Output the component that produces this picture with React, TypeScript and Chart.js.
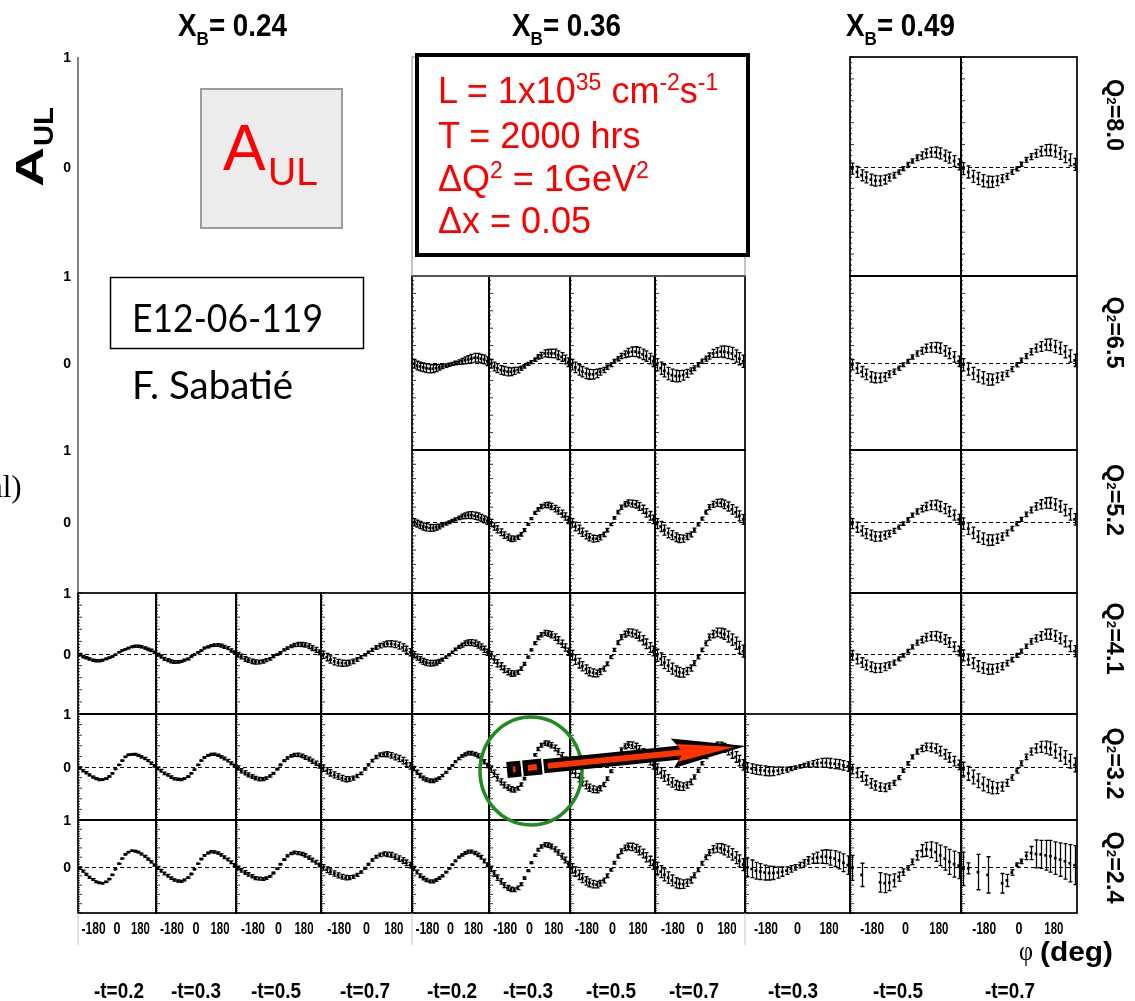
import React, { useEffect, useRef } from 'react';
import { Chart, registerables } from 'chart.js';

Chart.register(...registerables);

// ---------- data ----------
// phi bin centres (deg)
const PHI_BINS = [-172.5, -157.5, -142.5, -127.5, -112.5, -97.5, -82.5, -67.5, -52.5, -37.5, -22.5, -7.5,
  7.5, 22.5, 37.5, 52.5, 67.5, 82.5, 97.5, 112.5, 127.5, 142.5, 157.5, 172.5];

const XB_LABELS = ['0.24', '0.36', '0.49'];
const Q2_LABELS = ['8.0', '6.5', '5.2', '4.1', '3.2', '2.4'];
const T_LABELS = [['0.2', '0.3', '0.5', '0.7'], ['0.2', '0.3', '0.5', '0.7'], ['0.3', '0.5', '0.7']];
const PHI_TICK_LABELS = ['-180', '0', '180'];
const Y_TICK_LABELS = ['1', '0'];

// A_UL projections, x_B = 0.24
const A24_41_02 = [-0.02, -0.05, -0.07, -0.09, -0.11, -0.12, -0.12, -0.11, -0.09, -0.07, -0.05, -0.02, 0.02, 0.05, 0.07, 0.09, 0.11, 0.12, 0.12, 0.11, 0.09, 0.07, 0.05, 0.02];
const A24_41_03 = [-0.02, -0.05, -0.09, -0.11, -0.13, -0.14, -0.14, -0.13, -0.11, -0.09, -0.05, -0.02, 0.02, 0.05, 0.09, 0.11, 0.13, 0.14, 0.14, 0.13, 0.11, 0.09, 0.05, 0.02];
const A24_41_05 = [-0.02, -0.05, -0.09, -0.11, -0.13, -0.14, -0.14, -0.13, -0.11, -0.09, -0.05, -0.02, 0.02, 0.06, 0.09, 0.12, 0.14, 0.15, 0.15, 0.14, 0.12, 0.09, 0.06, 0.02];
const A24_41_07 = [-0.02, -0.06, -0.10, -0.13, -0.15, -0.16, -0.16, -0.15, -0.13, -0.10, -0.06, -0.02, 0.02, 0.06, 0.10, 0.13, 0.15, 0.16, 0.16, 0.15, 0.13, 0.10, 0.06, 0.02];
const A24_32_02 = [-0.02, -0.07, -0.11, -0.15, -0.19, -0.22, -0.24, -0.24, -0.22, -0.18, -0.12, -0.04, 0.04, 0.12, 0.19, 0.23, 0.24, 0.24, 0.22, 0.19, 0.16, 0.12, 0.07, 0.02];
const A24_32_03 = [-0.03, -0.07, -0.12, -0.15, -0.19, -0.22, -0.23, -0.24, -0.22, -0.18, -0.12, -0.05, 0.04, 0.12, 0.18, 0.22, 0.24, 0.24, 0.22, 0.19, 0.16, 0.12, 0.07, 0.03];
const A24_32_05 = [-0.02, -0.07, -0.11, -0.15, -0.18, -0.21, -0.23, -0.23, -0.21, -0.17, -0.12, -0.04, 0.04, 0.12, 0.17, 0.21, 0.23, 0.23, 0.21, 0.18, 0.15, 0.11, 0.07, 0.02];
const A24_32_07 = [-0.02, -0.07, -0.11, -0.15, -0.18, -0.21, -0.23, -0.23, -0.21, -0.17, -0.12, -0.04, 0.04, 0.12, 0.19, 0.23, 0.24, 0.24, 0.22, 0.19, 0.16, 0.12, 0.07, 0.02];
const A24_24_02 = [-0.04, -0.10, -0.17, -0.23, -0.28, -0.33, -0.35, -0.36, -0.33, -0.27, -0.18, -0.06, 0.06, 0.17, 0.26, 0.31, 0.34, 0.33, 0.31, 0.27, 0.22, 0.16, 0.10, 0.03];
const A24_24_03 = [-0.03, -0.09, -0.15, -0.20, -0.25, -0.29, -0.31, -0.32, -0.29, -0.24, -0.16, -0.06, 0.06, 0.16, 0.24, 0.29, 0.32, 0.31, 0.29, 0.25, 0.20, 0.15, 0.09, 0.03];
const A24_24_05 = [-0.03, -0.08, -0.13, -0.17, -0.21, -0.25, -0.26, -0.27, -0.25, -0.21, -0.14, -0.05, 0.05, 0.15, 0.23, 0.28, 0.30, 0.29, 0.27, 0.24, 0.19, 0.14, 0.09, 0.03];
const A24_24_07 = [-0.02, -0.07, -0.11, -0.15, -0.19, -0.22, -0.24, -0.24, -0.22, -0.18, -0.12, -0.04, 0.05, 0.14, 0.21, 0.25, 0.27, 0.26, 0.25, 0.21, 0.17, 0.13, 0.08, 0.03];

// A_UL projections, x_B = 0.36
const A36_65_02 = [-0.01, -0.03, -0.04, -0.05, -0.06, -0.065, -0.065, -0.06, -0.05, -0.04, -0.03, -0.02, -0.01, 0.00, 0.01, 0.02, 0.03, 0.04, 0.05, 0.06, 0.06, 0.05, 0.04, 0.02];
const A36_65_03 = [-0.01, -0.04, -0.06, -0.08, -0.09, -0.10, -0.10, -0.09, -0.08, -0.06, -0.04, -0.01, 0.01, 0.04, 0.07, 0.09, 0.11, 0.11, 0.11, 0.11, 0.09, 0.07, 0.04, 0.01];
const A36_65_05 = [-0.02, -0.05, -0.08, -0.10, -0.12, -0.13, -0.13, -0.12, -0.10, -0.08, -0.05, -0.02, 0.02, 0.05, 0.08, 0.10, 0.12, 0.13, 0.13, 0.12, 0.10, 0.08, 0.05, 0.02];
const A36_65_07 = [-0.02, -0.06, -0.09, -0.12, -0.14, -0.15, -0.15, -0.14, -0.12, -0.09, -0.06, -0.02, 0.02, 0.05, 0.08, 0.11, 0.12, 0.13, 0.13, 0.12, 0.11, 0.08, 0.05, 0.02];
const A36_52_02 = [-0.01, -0.03, -0.05, -0.07, -0.08, -0.09, -0.09, -0.08, -0.07, -0.05, -0.03, -0.01, 0.01, 0.03, 0.05, 0.07, 0.08, 0.09, 0.09, 0.08, 0.07, 0.05, 0.03, 0.01];
const A36_52_03 = [-0.02, -0.07, -0.11, -0.15, -0.19, -0.22, -0.24, -0.24, -0.22, -0.18, -0.12, -0.04, 0.04, 0.12, 0.17, 0.21, 0.23, 0.23, 0.21, 0.18, 0.15, 0.11, 0.07, 0.02];
const A36_52_05 = [-0.02, -0.07, -0.11, -0.15, -0.19, -0.22, -0.24, -0.24, -0.22, -0.18, -0.12, -0.04, 0.05, 0.13, 0.20, 0.24, 0.26, 0.25, 0.24, 0.21, 0.17, 0.12, 0.08, 0.03];
const A36_52_07 = [-0.03, -0.07, -0.12, -0.16, -0.19, -0.22, -0.24, -0.24, -0.21, -0.18, -0.12, -0.04, 0.04, 0.13, 0.20, 0.24, 0.26, 0.26, 0.24, 0.21, 0.17, 0.13, 0.08, 0.03];
const A36_41_02 = [-0.02, -0.06, -0.10, -0.13, -0.15, -0.16, -0.16, -0.15, -0.13, -0.10, -0.06, -0.02, 0.02, 0.07, 0.11, 0.14, 0.17, 0.18, 0.18, 0.17, 0.14, 0.11, 0.07, 0.02];
const A36_41_03 = [-0.03, -0.10, -0.16, -0.21, -0.26, -0.30, -0.33, -0.33, -0.31, -0.25, -0.17, -0.06, 0.06, 0.17, 0.26, 0.31, 0.34, 0.33, 0.31, 0.27, 0.22, 0.16, 0.10, 0.03];
const A36_41_05 = [-0.03, -0.10, -0.16, -0.21, -0.26, -0.30, -0.32, -0.33, -0.30, -0.25, -0.17, -0.06, 0.06, 0.18, 0.27, 0.32, 0.35, 0.34, 0.32, 0.28, 0.22, 0.16, 0.10, 0.04];
const A36_41_07 = [-0.03, -0.09, -0.15, -0.20, -0.25, -0.29, -0.31, -0.32, -0.29, -0.24, -0.16, -0.06, 0.06, 0.17, 0.27, 0.32, 0.35, 0.34, 0.32, 0.28, 0.23, 0.17, 0.10, 0.04];
const A36_32_02 = [-0.03, -0.10, -0.16, -0.21, -0.24, -0.26, -0.26, -0.24, -0.21, -0.16, -0.10, -0.03, 0.03, 0.10, 0.16, 0.21, 0.24, 0.26, 0.26, 0.24, 0.21, 0.16, 0.10, 0.03];
const A36_32_03 = [-0.04, -0.12, -0.20, -0.28, -0.34, -0.39, -0.42, -0.43, -0.40, -0.33, -0.22, -0.08, 0.08, 0.23, 0.34, 0.41, 0.45, 0.44, 0.41, 0.36, 0.29, 0.21, 0.13, 0.05];
const A36_32_05 = [-0.04, -0.12, -0.20, -0.28, -0.34, -0.39, -0.42, -0.43, -0.40, -0.33, -0.22, -0.08, 0.08, 0.21, 0.32, 0.39, 0.42, 0.41, 0.38, 0.33, 0.27, 0.20, 0.12, 0.04];
const A36_32_07 = [-0.04, -0.11, -0.17, -0.24, -0.29, -0.34, -0.36, -0.37, -0.34, -0.28, -0.19, -0.07, 0.07, 0.20, 0.30, 0.37, 0.40, 0.39, 0.36, 0.32, 0.26, 0.19, 0.12, 0.04];
const A36_24_02 = [-0.04, -0.12, -0.20, -0.25, -0.29, -0.32, -0.32, -0.29, -0.25, -0.20, -0.12, -0.04, 0.04, 0.12, 0.20, 0.25, 0.29, 0.32, 0.32, 0.29, 0.25, 0.20, 0.12, 0.04];
const A36_24_03 = [-0.05, -0.15, -0.24, -0.32, -0.40, -0.46, -0.49, -0.50, -0.46, -0.38, -0.25, -0.09, 0.08, 0.24, 0.36, 0.43, 0.47, 0.46, 0.43, 0.37, 0.30, 0.22, 0.14, 0.05];
const A36_24_05 = [-0.04, -0.11, -0.18, -0.25, -0.31, -0.35, -0.38, -0.39, -0.36, -0.30, -0.20, -0.07, 0.08, 0.22, 0.33, 0.40, 0.43, 0.42, 0.39, 0.34, 0.28, 0.20, 0.12, 0.04];
const A36_24_07 = [-0.04, -0.11, -0.18, -0.24, -0.30, -0.35, -0.37, -0.38, -0.35, -0.29, -0.19, -0.07, 0.07, 0.20, 0.30, 0.37, 0.40, 0.39, 0.36, 0.32, 0.26, 0.19, 0.12, 0.04];

// A_UL projections, x_B = 0.49
const A49_80_05 = [-0.02, -0.05, -0.08, -0.10, -0.12, -0.13, -0.13, -0.12, -0.10, -0.08, -0.05, -0.02, 0.02, 0.05, 0.08, 0.10, 0.12, 0.13, 0.13, 0.12, 0.10, 0.08, 0.05, 0.02];
const A49_80_07 = [-0.02, -0.05, -0.09, -0.11, -0.13, -0.14, -0.14, -0.13, -0.11, -0.09, -0.05, -0.02, 0.02, 0.06, 0.09, 0.12, 0.14, 0.15, 0.15, 0.14, 0.12, 0.09, 0.06, 0.02];
const A49_65_05 = [-0.02, -0.06, -0.10, -0.13, -0.16, -0.17, -0.17, -0.16, -0.13, -0.10, -0.06, -0.02, 0.02, 0.07, 0.11, 0.14, 0.17, 0.18, 0.18, 0.17, 0.14, 0.11, 0.07, 0.02];
const A49_65_07 = [-0.02, -0.07, -0.12, -0.15, -0.17, -0.19, -0.19, -0.17, -0.15, -0.12, -0.07, -0.02, 0.03, 0.08, 0.13, 0.17, 0.19, 0.21, 0.21, 0.19, 0.17, 0.13, 0.08, 0.03];
const A49_52_05 = [-0.03, -0.08, -0.13, -0.17, -0.19, -0.21, -0.21, -0.19, -0.17, -0.13, -0.08, -0.03, 0.03, 0.09, 0.14, 0.18, 0.21, 0.23, 0.23, 0.21, 0.18, 0.14, 0.09, 0.03];
const A49_52_07 = [-0.03, -0.10, -0.16, -0.21, -0.24, -0.26, -0.26, -0.24, -0.21, -0.16, -0.10, -0.03, 0.03, 0.10, 0.16, 0.21, 0.24, 0.26, 0.26, 0.24, 0.21, 0.16, 0.10, 0.03];
const A49_41_05 = [-0.03, -0.09, -0.15, -0.19, -0.22, -0.24, -0.24, -0.22, -0.19, -0.15, -0.09, -0.03, 0.04, 0.11, 0.18, 0.23, 0.27, 0.29, 0.29, 0.27, 0.23, 0.18, 0.11, 0.04];
const A49_41_07 = [-0.03, -0.10, -0.16, -0.21, -0.24, -0.26, -0.26, -0.24, -0.21, -0.16, -0.10, -0.03, 0.04, 0.12, 0.20, 0.25, 0.29, 0.32, 0.32, 0.29, 0.25, 0.20, 0.12, 0.04];
const A49_32_03 = [-0.01, -0.03, -0.05, -0.06, -0.07, -0.08, -0.08, -0.07, -0.06, -0.05, -0.03, -0.01, 0.01, 0.03, 0.05, 0.06, 0.07, 0.08, 0.08, 0.07, 0.06, 0.05, 0.03, 0.01];
const A49_32_05 = [-0.04, -0.11, -0.18, -0.25, -0.31, -0.35, -0.38, -0.39, -0.36, -0.30, -0.20, -0.07, 0.07, 0.19, 0.29, 0.35, 0.38, 0.37, 0.35, 0.30, 0.24, 0.18, 0.11, 0.04];
const A49_32_07 = [-0.04, -0.12, -0.19, -0.26, -0.32, -0.36, -0.39, -0.40, -0.37, -0.30, -0.20, -0.07, 0.07, 0.19, 0.29, 0.35, 0.38, 0.37, 0.35, 0.30, 0.24, 0.18, 0.11, 0.04];
const A49_24_03 = [-0.02, -0.05, -0.09, -0.11, -0.13, -0.14, -0.14, -0.13, -0.11, -0.09, -0.05, -0.02, 0.03, 0.08, 0.13, 0.17, 0.19, 0.21, 0.21, 0.19, 0.17, 0.13, 0.08, 0.03];
const A49_24_05 = [-0.03, null, -0.18, null, null, null, -0.34, -0.36, -0.35, -0.30, -0.22, -0.12, -0.03, 0.10, 0.24, 0.34, 0.37, 0.36, 0.31, 0.24, 0.17, 0.10, 0.05, 0.02];
const A49_24_07 = [-0.05, -0.04, null, -0.12, null, -0.18, null, null, -0.36, -0.30, -0.13, 0.04, 0.11, 0.23, 0.29, 0.27, 0.26, 0.24, 0.22, 0.18, 0.15, 0.11, 0.07, 0.03];

// statistical errors per bin
const ERR_A02 = [0.02, 0.02, 0.02, 0.019, 0.018, 0.017, 0.016, 0.014, 0.012, 0.01, 0.008, 0.006, 0.006, 0.008, 0.01, 0.012, 0.014, 0.016, 0.017, 0.018, 0.019, 0.02, 0.02, 0.02];
const ERR_A025 = [0.025, 0.025, 0.025, 0.024, 0.023, 0.021, 0.02, 0.018, 0.015, 0.013, 0.01, 0.008, 0.008, 0.01, 0.013, 0.015, 0.018, 0.02, 0.021, 0.023, 0.024, 0.025, 0.025, 0.025];
const ERR_A03 = [0.03, 0.03, 0.03, 0.029, 0.027, 0.026, 0.024, 0.021, 0.018, 0.015, 0.012, 0.009, 0.009, 0.012, 0.015, 0.018, 0.021, 0.024, 0.026, 0.027, 0.029, 0.03, 0.03, 0.03];
const ERR_A04 = [0.04, 0.04, 0.04, 0.038, 0.036, 0.034, 0.032, 0.028, 0.024, 0.02, 0.016, 0.012, 0.012, 0.016, 0.02, 0.024, 0.028, 0.032, 0.034, 0.036, 0.038, 0.04, 0.04, 0.04];
const ERR_A05 = [0.05, 0.05, 0.05, 0.048, 0.045, 0.043, 0.04, 0.035, 0.03, 0.025, 0.02, 0.015, 0.015, 0.02, 0.025, 0.03, 0.035, 0.04, 0.043, 0.045, 0.048, 0.05, 0.05, 0.05];
const ERR_A06 = [0.06, 0.06, 0.06, 0.057, 0.054, 0.051, 0.048, 0.042, 0.036, 0.03, 0.024, 0.018, 0.018, 0.024, 0.03, 0.036, 0.042, 0.048, 0.051, 0.054, 0.057, 0.06, 0.06, 0.06];
const ERR_A07 = [0.07, 0.07, 0.07, 0.067, 0.063, 0.06, 0.056, 0.049, 0.042, 0.035, 0.028, 0.021, 0.021, 0.028, 0.035, 0.042, 0.049, 0.056, 0.06, 0.063, 0.067, 0.07, 0.07, 0.07];
const ERR_A08 = [0.08, 0.08, 0.08, 0.076, 0.072, 0.068, 0.064, 0.056, 0.048, 0.04, 0.032, 0.024, 0.024, 0.032, 0.04, 0.048, 0.056, 0.064, 0.068, 0.072, 0.076, 0.08, 0.08, 0.08];
const ERR_A10 = [0.1, 0.1, 0.1, 0.095, 0.09, 0.085, 0.08, 0.07, 0.06, 0.05, 0.04, 0.03, 0.03, 0.04, 0.05, 0.06, 0.07, 0.08, 0.085, 0.09, 0.095, 0.1, 0.1, 0.1];
const ERR_A13 = [0.13, 0.13, 0.13, 0.124, 0.117, 0.111, 0.104, 0.091, 0.078, 0.065, 0.052, 0.039, 0.039, 0.052, 0.065, 0.078, 0.091, 0.104, 0.111, 0.117, 0.124, 0.13, 0.13, 0.13];
const ERR_B05 = [0.05, 0.05, 0.05, 0.05, 0.05, 0.048, 0.045, 0.04, 0.033, 0.025, 0.02, 0.018, 0.018, 0.02, 0.025, 0.033, 0.04, 0.045, 0.048, 0.05, 0.05, 0.05, 0.05, 0.05];
const ERR_B055 = [0.055, 0.055, 0.055, 0.055, 0.055, 0.052, 0.05, 0.044, 0.036, 0.028, 0.022, 0.019, 0.019, 0.022, 0.028, 0.036, 0.044, 0.05, 0.052, 0.055, 0.055, 0.055, 0.055, 0.055];
const ERR_B06 = [0.06, 0.06, 0.06, 0.06, 0.06, 0.057, 0.054, 0.048, 0.039, 0.03, 0.024, 0.021, 0.021, 0.024, 0.03, 0.039, 0.048, 0.054, 0.057, 0.06, 0.06, 0.06, 0.06, 0.06];
const ERR_B07 = [0.07, 0.07, 0.07, 0.07, 0.07, 0.067, 0.063, 0.056, 0.046, 0.035, 0.028, 0.025, 0.025, 0.028, 0.035, 0.046, 0.056, 0.063, 0.067, 0.07, 0.07, 0.07, 0.07, 0.07];
const ERR_B08 = [0.08, 0.08, 0.08, 0.08, 0.08, 0.076, 0.072, 0.064, 0.052, 0.04, 0.032, 0.028, 0.028, 0.032, 0.04, 0.052, 0.064, 0.072, 0.076, 0.08, 0.08, 0.08, 0.08, 0.08];
const ERR_B09 = [0.09, 0.09, 0.09, 0.09, 0.09, 0.086, 0.081, 0.072, 0.059, 0.045, 0.036, 0.032, 0.032, 0.036, 0.045, 0.059, 0.072, 0.081, 0.086, 0.09, 0.09, 0.09, 0.09, 0.09];
const ERR_B13 = [0.13, 0.13, 0.13, 0.13, 0.13, 0.124, 0.117, 0.104, 0.085, 0.065, 0.052, 0.046, 0.046, 0.052, 0.065, 0.085, 0.104, 0.117, 0.124, 0.13, 0.13, 0.13, 0.13, 0.13];
const ERR_B18 = [0.2, 0.19, 0.18, 0.17, 0.16, 0.15, 0.14, 0.12, 0.1, 0.08, 0.07, 0.06, 0.06, 0.07, 0.08, 0.1, 0.12, 0.14, 0.15, 0.16, 0.17, 0.18, 0.19, 0.2];
const E49_24_05 = [0.27, 0, 0.25, 0, 0, 0, 0.21, 0.2, 0.17, 0.14, 0.1, 0.07, 0.05, 0.06, 0.1, 0.13, 0.15, 0.17, 0.2, 0.22, 0.25, 0.27, 0.28, 0.28];
const E49_24_07 = [0.36, 0.12, 0, 0.38, 0, 0.39, 0, 0, 0.21, 0.13, 0.06, 0.04, 0.05, 0.08, 0.14, 0.3, 0.3, 0.32, 0.34, 0.35, 0.36, 0.38, 0.4, 0.42];

// panel table: [x_B group, -t column, Q2 row, values, errors]
const PANELS: any[] = [
  [0, 0, 3, A24_41_02, ERR_A02], [0, 1, 3, A24_41_03, ERR_A025], [0, 2, 3, A24_41_05, ERR_A04], [0, 3, 3, A24_41_07, ERR_A06],
  [0, 0, 4, A24_32_02, ERR_A02], [0, 1, 4, A24_32_03, ERR_A025], [0, 2, 4, A24_32_05, ERR_A04], [0, 3, 4, A24_32_07, ERR_A06],
  [0, 0, 5, A24_24_02, ERR_A02], [0, 1, 5, A24_24_03, ERR_A03], [0, 2, 5, A24_24_05, ERR_A04], [0, 3, 5, A24_24_07, ERR_A06],
  [1, 0, 1, A36_65_02, ERR_B05], [1, 1, 1, A36_65_03, ERR_B05], [1, 2, 1, A36_65_05, ERR_B06], [1, 3, 1, A36_65_07, ERR_B07],
  [1, 0, 2, A36_52_02, ERR_B05], [1, 1, 2, A36_52_03, ERR_A05], [1, 2, 2, A36_52_05, ERR_A06], [1, 3, 2, A36_52_07, ERR_A07],
  [1, 0, 3, A36_41_02, ERR_B05], [1, 1, 3, A36_41_03, ERR_A06], [1, 2, 3, A36_41_05, ERR_A08], [1, 3, 3, A36_41_07, ERR_A10],
  [1, 0, 4, A36_32_02, ERR_A04], [1, 1, 4, A36_32_03, ERR_A06], [1, 2, 4, A36_32_05, ERR_A08], [1, 3, 4, A36_32_07, ERR_A10],
  [1, 0, 5, A36_24_02, ERR_A04], [1, 1, 5, A36_24_03, ERR_A06], [1, 2, 5, A36_24_05, ERR_A10], [1, 3, 5, A36_24_07, ERR_A13],
  [2, 1, 0, A49_80_05, ERR_B05], [2, 2, 0, A49_80_07, ERR_B055],
  [2, 1, 1, A49_65_05, ERR_B06], [2, 2, 1, A49_65_07, ERR_B07],
  [2, 1, 2, A49_52_05, ERR_B07], [2, 2, 2, A49_52_07, ERR_B08],
  [2, 1, 3, A49_41_05, ERR_B08], [2, 2, 3, A49_41_07, ERR_B09],
  [2, 0, 4, A49_32_03, ERR_B09], [2, 1, 4, A49_32_05, ERR_B09], [2, 2, 4, A49_32_07, ERR_B13],
  [2, 0, 5, A49_24_03, ERR_B18], [2, 1, 5, A49_24_05, E49_24_05], [2, 2, 5, A49_24_07, E49_24_07],
];

// ---------- layout ----------
const COL_EDGES = [[78, 156, 236, 321, 412], [412, 489, 570, 655, 745], [745, 850, 961, 1077]];
const ROW_EDGES = [57, 276, 450, 593, 714, 820, 913];
const TITLE_X = [178, 512, 846];
const T_LABEL_X = [[119, 196, 276, 365], [452, 528, 611, 694], [793, 898, 1010]];
const Q2_LABEL_Y = [115, 332.5, 500, 638.5, 763.5, 867.5];
const PAD = 2;

const SANS = '"Liberation Sans", Arial, Helvetica, sans-serif';
const SERIF = '"Liberation Serif", "Times New Roman", serif';
const HUMAN = 'Lato, "Open Sans", "Noto Sans", sans-serif';
const RED = '#ff0000';

// frame, zero line, left-edge ticks and error bars of one panel
const panelDecor = {
  id: 'panelDecor',
  beforeDatasetsDraw(chart: any) {
    const { ctx, chartArea, scales } = chart;
    const { left, right } = chartArea;
    const xs = scales.x;
    const ys = scales.y;
    ctx.save();
    ctx.strokeStyle = '#000';
    const yz = Math.round(ys.getPixelForValue(0)) + 0.5;
    ctx.lineWidth = 1;
    ctx.setLineDash([4, 3]);
    ctx.beginPath();
    ctx.moveTo(left, yz);
    ctx.lineTo(right, yz);
    ctx.stroke();
    ctx.setLineDash([]);
    ctx.lineWidth = 0.8;
    ctx.beginPath();
    for (let k = -20; k <= 20; k++) {
      const py = ys.getPixelForValue(k / 20);
      const len = k % 4 === 0 ? 4 : 2;
      ctx.moveTo(left, py);
      ctx.lineTo(left + len, py);
    }
    ctx.stroke();
    ctx.lineWidth = 1.3;
    ctx.beginPath();
    for (const p of chart.data.datasets[0].data) {
      if (!p.err) continue;
      const px = Math.round(xs.getPixelForValue(p.x)) + 0.5;
      const pt = ys.getPixelForValue(p.y + p.err);
      const pb = ys.getPixelForValue(p.y - p.err);
      ctx.moveTo(px, pt); ctx.lineTo(px, pb);
      ctx.moveTo(px - 2, pt); ctx.lineTo(px + 2, pt);
      ctx.moveTo(px - 2, pb); ctx.lineTo(px + 2, pb);
    }
    ctx.stroke();
    ctx.restore();
  },
  afterDraw(chart: any) {
    const { ctx, chartArea } = chart;
    ctx.save();
    ctx.strokeStyle = '#000';
    ctx.lineWidth = 1.7;
    ctx.strokeRect(chartArea.left, chartArea.top, chartArea.right - chartArea.left, chartArea.bottom - chartArea.top);
    ctx.restore();
  },
};

function Panel({ x0, x1, y0, y1, values, errors }: any) {
  const ref = useRef<HTMLCanvasElement>(null);
  useEffect(() => {
    const pts: any[] = [];
    PHI_BINS.forEach((phi, i) => {
      if (values[i] !== null) pts.push({ x: phi, y: values[i], err: errors[i] });
    });
    const chart = new Chart(ref.current as HTMLCanvasElement, {
      type: 'scatter',
      data: {
        datasets: [{
          data: pts,
          pointStyle: 'rect',
          pointRadius: 1.9,
          backgroundColor: '#000',
          borderColor: '#000',
          borderWidth: 0,
          clip: false,
        }],
      },
      options: {
        animation: false,
        responsive: false,
        events: [],
        layout: { padding: PAD, autoPadding: false },
        scales: {
          x: { type: 'linear', min: -180, max: 180, display: false, offset: false },
          y: { type: 'linear', min: -1, max: 1, display: false },
        },
        plugins: { legend: { display: false }, tooltip: { enabled: false } },
      },
      plugins: [panelDecor],
    } as any);
    return () => chart.destroy();
  }, [values, errors]);
  const w = x1 - x0 + 2 * PAD;
  const h = y1 - y0 + 2 * PAD;
  return (
    <canvas ref={ref} width={w} height={h}
      style={{ position: 'absolute', left: x0 - PAD, top: y0 - PAD, width: w, height: h }} />
  );
}

export default function App() {
  const bold = { fontFamily: SANS, fontWeight: 'bold' as const };
  return (
    <div style={{ position: 'absolute', left: 0, top: 0, width: 1135, height: 1001, background: '#fff', overflow: 'hidden' }}>
      {PANELS.map(([g, c, r, v, e], i) => (
        <Panel key={i} x0={COL_EDGES[g][c]} x1={COL_EDGES[g][c + 1]} y0={ROW_EDGES[r]} y1={ROW_EDGES[r + 1]} values={v} errors={e} />
      ))}
      <svg width={1135} height={1001} style={{ position: 'absolute', left: 0, top: 0, pointerEvents: 'none' }}>
        {/* axis line of the empty upper-left block and frame of the empty 0.36 cell */}
        <line x1={78} y1={57} x2={78} y2={593} stroke="#333" strokeWidth={1.2} />
        <rect x={412} y={57} width={333} height={219} fill="none" stroke="#8a8a8a" strokeWidth={1} />
        {[78, 412, 745].map((x) => (
          <line key={x} x1={x} y1={913} x2={x} y2={945} stroke="#c4c4c4" strokeWidth={1} />
        ))}

        {/* x_B headers */}
        {XB_LABELS.map((xb, g) => (
          <text key={xb} x={TITLE_X[g]} y={36} {...bold} fontSize={31} textLength={109} lengthAdjust="spacingAndGlyphs">
            X<tspan fontSize={19} dy={9}>B</tspan><tspan dy={-9}>{'= ' + xb}</tspan>
          </text>
        ))}

        {/* y tick labels */}
        {Q2_LABELS.map((q, r) => (
          <g key={q}>
            <text x={71} y={ROW_EDGES[r] + 5} {...bold} fontSize={14} textAnchor="end">{Y_TICK_LABELS[0]}</text>
            <text x={71} y={(ROW_EDGES[r] + ROW_EDGES[r + 1]) / 2 + 5} {...bold} fontSize={14} textAnchor="end">{Y_TICK_LABELS[1]}</text>
          </g>
        ))}

        {/* Q2 row labels */}
        {Q2_LABELS.map((q, r) => (
          <text key={'q' + q} transform={`translate(1107 ${Q2_LABEL_Y[r] - 36}) rotate(90)`} {...bold} fontSize={23}
            textLength={72} lengthAdjust="spacingAndGlyphs">
            Q<tspan fontSize={13}>2</tspan>{'=' + q}
          </text>
        ))}

        {/* phi tick labels under each column */}
        {COL_EDGES.map((edges, g) => T_LABELS[g].map((t, c) => {
          const cx = (edges[c] + edges[c + 1]) / 2;
          const w = edges[c + 1] - edges[c];
          return (
            <g key={`tk${g}-${c}`}>
              <text x={cx - 0.3 * w} y={934} {...bold} fontSize={17} textAnchor="middle" textLength={24} lengthAdjust="spacingAndGlyphs">{PHI_TICK_LABELS[0]}</text>
              <text x={cx} y={934} {...bold} fontSize={17} textAnchor="middle" textLength={7} lengthAdjust="spacingAndGlyphs">{PHI_TICK_LABELS[1]}</text>
              <text x={cx + 0.3 * w} y={934} {...bold} fontSize={17} textAnchor="middle" textLength={19} lengthAdjust="spacingAndGlyphs">{PHI_TICK_LABELS[2]}</text>
            </g>
          );
        }))}

        {/* -t labels */}
        {T_LABELS.map((ts, g) => ts.map((t, c) => (
          <text key={`t${g}-${c}`} x={T_LABEL_X[g][c]} y={998} {...bold} fontSize={22} textAnchor="middle"
            textLength={50} lengthAdjust="spacingAndGlyphs">{'-t=' + t}</text>
        )))}

        {/* phi axis title */}
        <text x={1019} y={960} fontFamily={SERIF} fontSize={28} textLength={14} lengthAdjust="spacingAndGlyphs">φ</text>
        <text x={1040} y={961} {...bold} fontSize={28} textLength={73} lengthAdjust="spacingAndGlyphs">(deg)</text>

        {/* vertical A_UL title */}
        <g transform="translate(43 187) rotate(-90)">
          <text x={0} y={0} {...bold} fontSize={39} textLength={40} lengthAdjust="spacingAndGlyphs">A</text>
          <text x={41} y={10} {...bold} fontSize={27} textLength={39} lengthAdjust="spacingAndGlyphs">UL</text>
        </g>

        {/* A_UL badge */}
        <rect x={201} y={89} width={141} height={139} fill="#ececec" stroke="#9c9c9c" strokeWidth={2} />
        <text x={223} y={170} fontFamily={SANS} fontSize={64} fill={RED}>A</text>
        <text x={268} y={185} fontFamily={SANS} fontSize={39} fill={RED}>UL</text>

        {/* run conditions */}
        <rect x={417} y={55} width={331} height={200} fill="#fff" stroke="#000" strokeWidth={4} />
        <text x={438} y={103} fontFamily={SANS} fontSize={36} fill={RED}>
          L = 1x10<tspan fontSize={23} dy={-13}>35</tspan><tspan dy={13}> cm</tspan><tspan fontSize={23} dy={-13}>-2</tspan><tspan dy={13}>s</tspan><tspan fontSize={23} dy={-13}>-1</tspan>
        </text>
        <text x={438} y={148} fontFamily={SANS} fontSize={36} fill={RED}>T = 2000 hrs</text>
        <text x={438} y={191} fontFamily={SANS} fontSize={36} fill={RED}>
          ΔQ<tspan fontSize={23} dy={-13}>2</tspan><tspan dy={13}> = 1GeV</tspan><tspan fontSize={23} dy={-13}>2</tspan>
        </text>
        <text x={438} y={233} fontFamily={SANS} fontSize={36} fill={RED}>Δx = 0.05</text>

        {/* experiment tag */}
        <rect x={110.5} y={277.5} width={253} height={71} fill="#fff" stroke="#000" strokeWidth={1.5} />
        <text x={132} y={332} fontFamily={HUMAN} fontSize={38} textLength={191} lengthAdjust="spacingAndGlyphs">E12-06-119</text>
        <text x={132} y={399} fontFamily={HUMAN} fontSize={38} textLength={161} lengthAdjust="spacingAndGlyphs">F. Sabatié</text>
        <text x={-11} y={497} fontFamily={SERIF} fontSize={31}>al)</text>

        {/* highlighted bin and arrow */}
        <ellipse cx={531} cy={771} rx={51} ry={54} fill="none" stroke="#1e8c1e" strokeWidth={3.5} />
        <g transform="translate(507 770) rotate(-5.76)">
          <rect x={0} y={-8} width={14} height={16} fill="#000" />
          <rect x={6} y={-3} width={2.5} height={6} fill="#ff3300" />
          <rect x={16} y={-8} width={19} height={16} fill="#000" />
          <rect x={21} y={-3} width={9} height={6} fill="#ff3300" />
          <polygon points="37,-7 172,-7 166,-15 240,0 166,15 172,7 37,7" fill="#000" />
          <polygon points="41,-3 175,-3 171,-9 229,0 171,9 175,3 41,3" fill="#ff3300" />
        </g>
      </svg>
    </div>
  );
}
